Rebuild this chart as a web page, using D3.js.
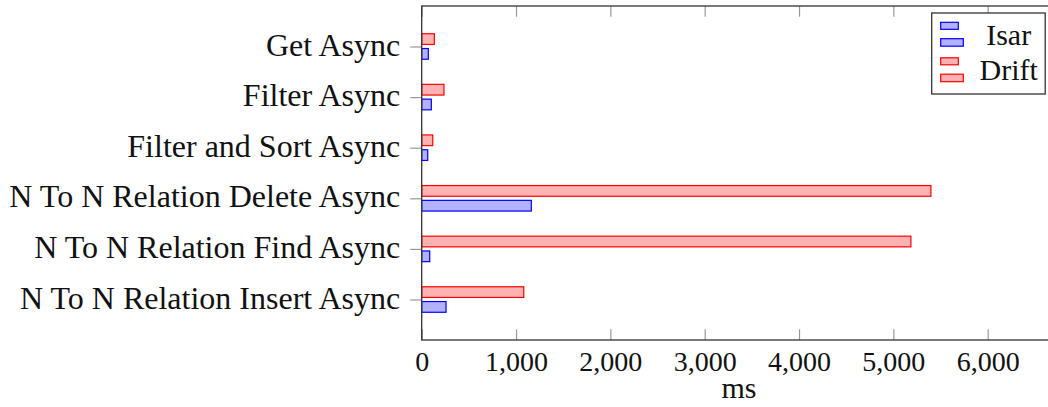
<!DOCTYPE html>
<html>
<head>
<meta charset="utf-8">
<script src="https://cdn.jsdelivr.net/npm/d3@7"></script>
<style>
    body { margin: 0; background: #fff; }
    svg { display: block; font-family: "Liberation Serif", "DejaVu Serif", serif; }
</style>
</head>
<body>
<div id="chart"></div>
<script>
const categories = [
    'Get Async',
    'Filter Async',
    'Filter and Sort Async',
    'N To N Relation Delete Async',
    'N To N Relation Find Async',
    'N To N Relation Insert Async',
];
const isarMs = [70, 102, 64, 1162, 85, 258];
const driftMs = [134, 236, 117, 5398, 5186, 1082];
const seriesNames = ['Isar', 'Drift'];
const xTicks = [0, 1000, 2000, 3000, 4000, 5000, 6000];
const xMax = 6650;

function createChart() {
    const width = 1048;
    const height = 407;
    const area = { left: 421.7, right: 1049, top: 6, bottom: 340 };

    const series = [
        { name: seriesNames[0], values: isarMs, fill: 'rgb(178,178,255)', stroke: '#0000ff', offset: 7.4 },
        { name: seriesNames[1], values: driftMs, fill: 'rgb(255,178,178)', stroke: '#ff0000', offset: -7.4 },
    ];
    const barHeight = 10.7;

    const svg = d3
        .select('#chart')
        .append('svg')
        .attr('width', width)
        .attr('height', height);

    const xScale = d3.scaleLinear().domain([0, xMax]).range([area.left, area.right]);
    const yScale = d3
        .scalePoint()
        .domain(categories)
        .range([area.top, area.bottom])
        .padding(0.8);

    // bars, one group per series
    series.forEach((s) => {
        svg.append('g')
            .selectAll('rect')
            .data(categories)
            .join('rect')
            .attr('x', xScale(0))
            .attr('y', (d) => yScale(d) + s.offset - barHeight / 2)
            .attr('width', (d, i) => xScale(s.values[i]) - xScale(0))
            .attr('height', barHeight)
            .attr('fill', s.fill)
            .attr('stroke', s.stroke)
            .attr('stroke-width', 1.2);
    });

    // x ticks inside, bottom and top
    const tickLen = 10.7;
    const xAxisBottom = d3.axisBottom(xScale).tickValues(xTicks).tickSizeInner(-tickLen).tickSizeOuter(0).tickPadding(11).tickFormat(d3.format(','));
    const gx = svg.append('g').attr('transform', `translate(0, ${area.bottom})`).call(xAxisBottom);
    gx.attr('font-family', null).attr('font-size', 28);
    gx.select('.domain').remove();
    gx.selectAll('line').attr('stroke', '#999').attr('stroke-width', 1.2);
    gx.selectAll('text').attr('fill', '#111');

    const gxTop = svg.append('g').attr('transform', `translate(0, ${area.top})`)
        .call(d3.axisTop(xScale).tickValues(xTicks).tickSizeInner(-tickLen).tickSizeOuter(0).tickFormat(''));
    gxTop.select('.domain').remove();
    gxTop.selectAll('line').attr('stroke', '#999').attr('stroke-width', 1.2);

    // y ticks outside on the left
    const gy = svg.append('g').attr('transform', `translate(${area.left}, 0)`)
        .call(d3.axisLeft(yScale).tickSizeInner(11.5).tickSizeOuter(0).tickPadding(10));
    gy.attr('font-family', null).attr('font-size', 32);
    gy.select('.domain').remove();
    gy.selectAll('line').attr('stroke', '#999').attr('stroke-width', 1.2);
    gy.selectAll('text').attr('fill', '#111').attr('dy', '0.27em');

    // frame
    svg.append('rect')
        .attr('x', area.left)
        .attr('y', area.top)
        .attr('width', area.right - area.left)
        .attr('height', area.bottom - area.top)
        .attr('fill', 'none')
        .attr('stroke', '#333')
        .attr('stroke-width', 1.3);

    svg.append('text')
        .attr('x', 739)
        .attr('y', 398)
        .attr('text-anchor', 'middle')
        .attr('font-size', 30)
        .attr('fill', '#111')
        .text('ms');

    // legend (north east)
    const legend = svg.append('g').attr('transform', 'translate(931.7, 13)');
    legend.append('rect')
        .attr('width', 113.5)
        .attr('height', 81)
        .attr('fill', '#fff')
        .attr('stroke', '#333')
        .attr('stroke-width', 1.3);

    series.forEach((s, i) => {
        const row = legend.append('g').attr('transform', `translate(9, ${9.3 + i * 35.5})`);
        row.append('rect').attr('x', 0).attr('y', 0).attr('width', 17.6).attr('height', 7)
            .attr('fill', s.fill).attr('stroke', s.stroke).attr('stroke-width', 1.2);
        row.append('rect').attr('x', 0).attr('y', 16.4).attr('width', 22.6).attr('height', 7.5)
            .attr('fill', s.fill).attr('stroke', s.stroke).attr('stroke-width', 1.2);
        row.append('text')
            .attr('x', 68)
            .attr('y', 22.5)
            .attr('text-anchor', 'middle')
            .attr('font-size', 30)
            .attr('fill', '#111')
            .text(s.name);
    });
}

document.addEventListener('DOMContentLoaded', createChart);
</script>
</body>
</html>
